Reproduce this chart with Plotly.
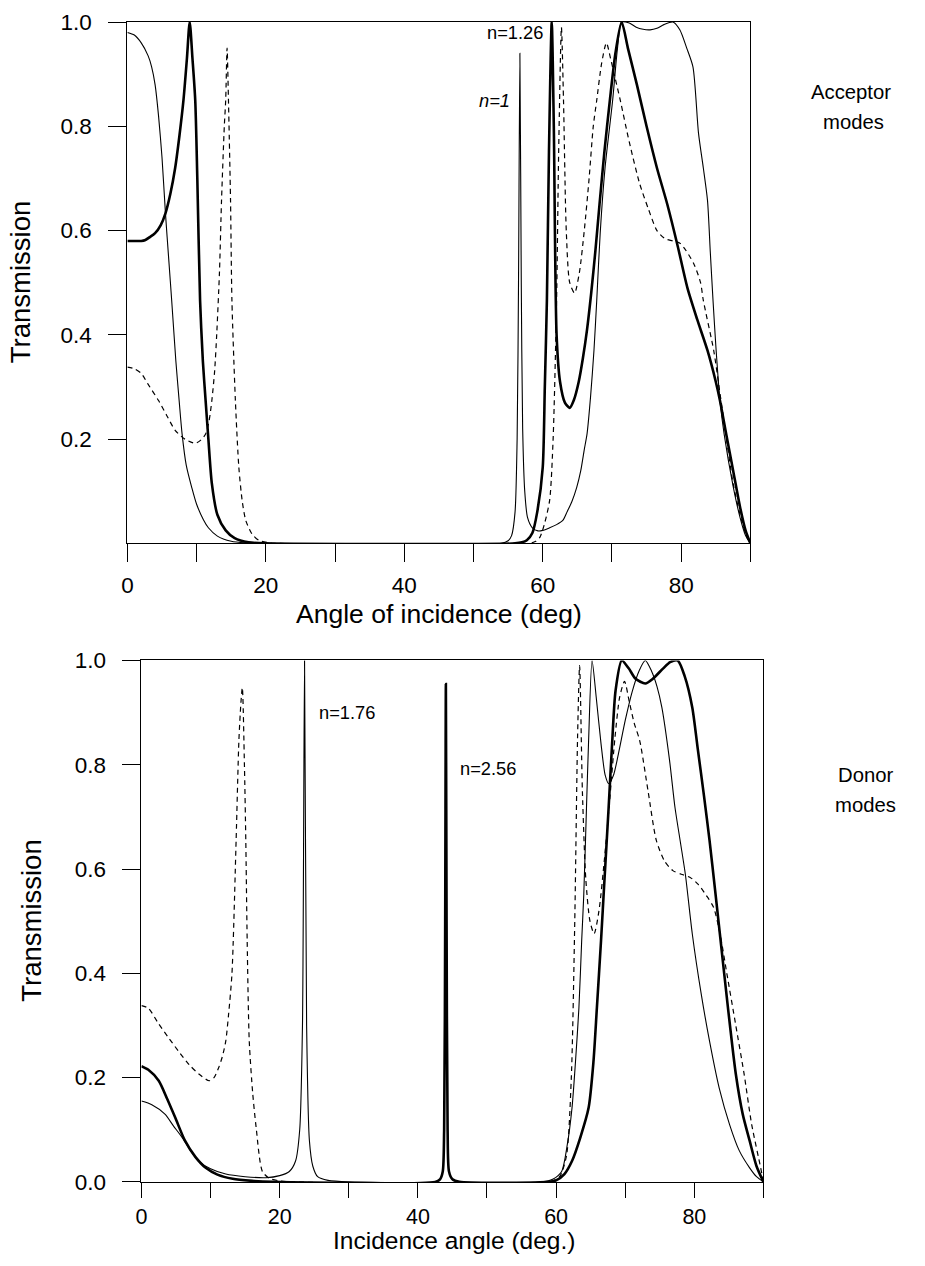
import plotly.graph_objects as go

# ---------------- Data ----------------
acc_thin_x = [0, 1, 2, 3, 3.5, 4, 4.5, 5, 5.5, 6, 6.4, 7, 7.5, 7.9, 8.5, 9.3, 10, 11, 11.7, 13, 15, 17, 20,
              54, 55, 55.5, 56, 56.3, 56.5, 56.7, 56.9, 57.1, 57.4, 57.8, 58.5, 59.3, 60, 61, 62, 62.9, 63.5,
              64.2, 64.9, 65.5, 66, 66.4, 66.9, 67.4, 67.8, 68.3, 69, 70.1, 70.8, 71.4, 72.5, 73.5, 74.5,
              75.5, 76.5, 77.5, 78.8, 79.8, 80.8, 81.7, 82.5, 83.2, 83.8, 84.2, 84.6, 85.0, 85.6, 86.2,
              87.5, 88.5, 89.3, 90]
acc_thin_y = [0.98, 0.975, 0.96, 0.935, 0.914, 0.88, 0.82, 0.74, 0.633, 0.54, 0.466, 0.35, 0.27, 0.21, 0.15,
              0.107, 0.075, 0.045, 0.03, 0.014, 0.004, 0.001, 0.0,
              0.0, 0.005, 0.015, 0.06, 0.2, 0.5, 0.94, 0.5, 0.22, 0.1, 0.05, 0.03, 0.024, 0.025, 0.03, 0.036,
              0.044, 0.06, 0.08, 0.107, 0.14, 0.18, 0.21, 0.28, 0.37, 0.466, 0.595, 0.72, 0.85, 0.95, 1.0,
              0.998, 0.99, 0.986, 0.985, 0.988, 0.995, 1.0, 0.985, 0.95, 0.914, 0.787, 0.72, 0.658, 0.56,
              0.466, 0.38, 0.274, 0.21, 0.11, 0.05, 0.015, 0.0]

acc_thick_x = [0, 1, 2, 2.6, 3.3, 4, 4.8, 5.5, 6.2, 6.9, 7.5, 8.1, 8.6, 9.0, 9.4, 9.8, 10.1, 10.5, 10.9, 11.3,
               11.7, 12.2, 13, 14.2, 15.5, 17.5, 20,
               56, 57, 57.7, 58.5, 59.2, 60, 60.3, 60.6, 60.9, 61.3, 61.6, 62, 62.5, 63.2, 63.9, 64.5, 65.2,
               65.8, 66.4, 67.0, 67.6, 68.2, 68.9, 69.7, 70.5, 71.4, 72.3, 73.6, 75.0, 76.5, 78.0, 79.5,
               80.9, 82.3, 83.8, 85.0, 85.6, 86.5, 87.5, 88.5, 89.3, 90]
acc_thick_y = [0.58, 0.58, 0.58, 0.582, 0.588, 0.595, 0.61, 0.633, 0.67, 0.72, 0.78, 0.85, 0.93, 1.0, 0.93,
               0.85, 0.7, 0.466, 0.35, 0.274, 0.2, 0.115, 0.055, 0.025, 0.01, 0.002, 0.0,
               0.0, 0.002, 0.006, 0.02, 0.06, 0.146, 0.3, 0.466, 0.75, 1.0, 0.8, 0.40, 0.31, 0.27, 0.26,
               0.275, 0.31, 0.355, 0.41, 0.48, 0.56, 0.65, 0.75, 0.85, 0.94, 1.0, 0.95, 0.88, 0.80, 0.72,
               0.65, 0.57, 0.49, 0.43, 0.37, 0.31, 0.274, 0.21, 0.14, 0.07, 0.025, 0.0]

acc_dash_x = [0, 1, 2, 3, 4.5, 5.7, 6.9, 8.3, 9.8, 10.6, 11.3, 11.8, 12.2, 12.6, 12.9, 13.3, 13.6, 14.0, 14.2,
              14.4, 14.6, 14.9, 15.1, 15.6, 16.1, 16.6, 17.1, 18, 19, 20.5, 22,
              58, 59, 59.6, 60.3, 61, 61.5, 62, 62.3, 62.7, 63.0, 63.4, 63.9, 64.6, 65.3, 66, 66.7, 67.3,
              67.8, 68.5, 69.2, 69.8, 70.5, 71.2, 72.5, 74, 75.3, 76.5, 77.6, 78.8, 79.9, 81.8, 82.8, 83.2,
              84.7, 85.4, 86.1, 87.5, 88.7, 89.5, 90]
acc_dash_y = [0.338, 0.335, 0.326, 0.305, 0.274, 0.245, 0.217, 0.2, 0.192, 0.198, 0.21, 0.235, 0.274, 0.33,
              0.40, 0.52, 0.658, 0.8, 0.85, 0.95, 0.85, 0.658, 0.466, 0.274, 0.146, 0.08, 0.044, 0.018,
              0.006, 0.001, 0.0,
              0.0, 0.004, 0.012, 0.04, 0.083, 0.2, 0.466, 0.75, 0.99, 0.85, 0.6, 0.5, 0.48, 0.52, 0.6, 0.7,
              0.8, 0.85, 0.92, 0.96, 0.93, 0.89, 0.85, 0.77, 0.69, 0.64, 0.6, 0.585, 0.58, 0.575, 0.537,
              0.5, 0.466, 0.37, 0.307, 0.242, 0.115, 0.045, 0.012, 0.0]

don_thin_x = [0, 1.5, 3.4, 4.6, 5.9, 7, 8.3, 10, 12.2, 15, 18, 20, 21.4, 22.3, 22.9, 23.3, 23.6, 23.9, 24.3,
              24.8, 25.5, 27, 30,
              58, 59.5, 60.8, 61.6, 62.3, 62.8, 63.3, 63.7, 64.0, 64.4, 64.7, 65.2, 65.8, 66.5, 67.1, 67.6,
              68.3, 69, 70, 71, 72, 72.9, 73.8, 74.6, 75.3, 76.4, 77.2, 78.0, 78.7, 79.7, 81, 82.2, 83.6,
              85.1, 86.5, 88, 89, 90]
don_thin_y = [0.155, 0.148, 0.13, 0.108, 0.085, 0.062, 0.04, 0.025, 0.015, 0.01, 0.008, 0.012, 0.02, 0.04,
              0.1, 0.3, 1.0, 0.3, 0.08, 0.03, 0.01, 0.003, 0.0,
              0.0, 0.005, 0.02, 0.07, 0.142, 0.23, 0.334, 0.463, 0.55, 0.72, 0.846, 1.0, 0.93, 0.84, 0.78,
              0.764, 0.78, 0.82, 0.885, 0.94, 0.98, 1.0, 0.98, 0.95, 0.91, 0.81, 0.718, 0.65, 0.59, 0.476,
              0.36, 0.27, 0.18, 0.11, 0.06, 0.027, 0.01, 0.0]

don_thick_x = [0, 1, 2.5, 3.7, 4.9, 6.3, 7.8, 9.3, 11, 13.2, 16, 19,
               42.5, 43.2, 43.6, 43.8, 43.95, 44.05, 44.15, 44.3, 44.5, 45, 46,
               59, 60, 61.2, 62.3, 63.5, 64.7, 65.4, 65.9, 66.5, 67, 67.6, 68.1, 68.6, 69.5, 70.5, 71.5,
               72.9, 74, 75.5, 76.5, 77.6, 78.6, 79.7, 80.5, 81.4, 82.2, 83, 83.8, 84.9, 86, 87, 88, 89, 90]
don_thick_y = [0.222, 0.215, 0.194, 0.16, 0.123, 0.079, 0.048, 0.027, 0.014, 0.006, 0.002, 0.0,
               0.0, 0.005, 0.02, 0.1, 0.5, 0.955, 0.5, 0.1, 0.02, 0.005, 0.0,
               0.0, 0.003, 0.015, 0.04, 0.085, 0.142, 0.23, 0.334, 0.463, 0.58, 0.718, 0.84, 0.942, 1.0,
               0.985, 0.965, 0.956, 0.965, 0.985, 0.997, 1.0, 0.97, 0.91, 0.83, 0.74, 0.655, 0.56, 0.463,
               0.33, 0.207, 0.13, 0.079, 0.03, 0.0]

don_dash_x = [0, 1, 2.5, 4, 5.4, 6.9, 8.3, 9.8, 10.5, 11.2, 11.7, 12.2, 12.6, 13.1, 13.7, 14.1, 14.4, 14.6,
              14.9, 15.1, 15.3, 15.6, 16.1, 16.6, 17.5, 18.5, 20, 22,
              59, 60.5, 61.5, 62.2, 62.7, 63.1, 63.4, 63.8, 64.3, 64.9, 65.5, 66.2, 67, 67.8, 68.5, 69.2,
              69.9, 70.6, 71.3, 72.1, 73.3, 74.5, 75.7, 76.9, 78.1, 79.4, 80.6, 81.7, 82.8, 83.8, 84.7, 86,
              87.2, 88.3, 89.6, 90]
don_dash_y = [0.338, 0.333, 0.303, 0.275, 0.25, 0.225, 0.207, 0.194, 0.2, 0.22, 0.24, 0.27, 0.32, 0.40,
              0.655, 0.846, 0.92, 0.948, 0.8, 0.655, 0.463, 0.27, 0.17, 0.104, 0.02, 0.007, 0.002, 0.0,
              0.0, 0.01, 0.05, 0.2, 0.5, 0.85, 0.99, 0.75, 0.58, 0.5, 0.476, 0.52, 0.62, 0.74, 0.85, 0.93,
              0.96, 0.92, 0.88, 0.846, 0.75, 0.655, 0.615, 0.597, 0.59, 0.584, 0.57, 0.55, 0.526, 0.47,
              0.40, 0.3, 0.207, 0.11, 0.027, 0.0]

x_tickvals = [0, 10, 20, 30, 40, 50, 60, 70, 80, 90]
x_ticktext = ["0", "", "20", "", "40", "", "60", "", "80", ""]
top_y_tickvals = [0.2, 0.4, 0.6, 0.8, 1.0]
top_y_ticktext = ["0.2", "0.4", "0.6", "0.8", "1.0"]
bot_y_tickvals = [0.0, 0.2, 0.4, 0.6, 0.8, 1.0]
bot_y_ticktext = ["0.0", "0.2", "0.4", "0.6", "0.8", "1.0"]

# ---------------- Layout helpers ----------------
W, H = 925, 1266
FONT = "Liberation Sans, Arial, sans-serif"
# the photographed page lands slightly inset/scaled; map target pixels onto the page
SX, OX = 0.9903, 8.0
SY, OY = 0.9795, 12.0


def px(x):
    return ((x - OX) / SX) / W


def py(y):
    page = min((y - OY) / SY, H - 12.5)
    return 1 - page / H


fig = go.Figure()

thin = dict(color="black", width=1.1, shape="spline", smoothing=0.7)
thick = dict(color="black", width=2.6, shape="spline", smoothing=0.7)
dash = dict(color="black", width=1.2, dash="5px,4px", shape="spline", smoothing=0.7)

fig.add_trace(go.Scatter(x=acc_thin_x, y=acc_thin_y, mode="lines", line=thin, xaxis="x", yaxis="y"))
fig.add_trace(go.Scatter(x=acc_dash_x, y=acc_dash_y, mode="lines", line=dash, xaxis="x", yaxis="y"))
fig.add_trace(go.Scatter(x=acc_thick_x, y=acc_thick_y, mode="lines", line=thick, xaxis="x", yaxis="y"))

fig.add_trace(go.Scatter(x=don_thin_x, y=don_thin_y, mode="lines", line=thin, xaxis="x2", yaxis="y2"))
fig.add_trace(go.Scatter(x=don_dash_x, y=don_dash_y, mode="lines", line=dash, xaxis="x2", yaxis="y2"))
fig.add_trace(go.Scatter(x=don_thick_x, y=don_thick_y, mode="lines", line=thick, xaxis="x2", yaxis="y2"))

axis_common = dict(showgrid=False, zeroline=False, showline=True, linecolor="black", linewidth=1,
                   mirror=True, ticks="outside", tickwidth=1.2, tickcolor="black")
tick_font = dict(family=FONT, size=22.5, color="black")
tick_font_small = dict(family=FONT, size=21.5, color="black")

fig.update_layout(
    width=W, height=H, margin=dict(l=0, r=0, t=0, b=0),
    paper_bgcolor="white", plot_bgcolor="white", showlegend=False,
    xaxis=dict(domain=[px(129), px(750)], range=[0, 90], anchor="y", ticklen=18, tickfont=tick_font,
               tickvals=x_tickvals, ticktext=x_ticktext, ticklabelstandoff=4, **axis_common),
    yaxis=dict(domain=[py(543), py(22)], range=[0, 1], anchor="x", ticklen=18, tickfont=tick_font,
               tickvals=top_y_tickvals, ticktext=top_y_ticktext, ticklabelstandoff=12, **axis_common),
    xaxis2=dict(domain=[px(143), px(763)], range=[0, 90], anchor="y2", ticklen=15, tickfont=tick_font_small,
                tickvals=x_tickvals, ticktext=x_ticktext, ticklabelstandoff=0, **axis_common),
    yaxis2=dict(domain=[py(1181), py(660)], range=[0, 1], anchor="x2", ticklen=18, tickfont=tick_font,
                tickvals=bot_y_tickvals, ticktext=bot_y_ticktext, ticklabelstandoff=12, **axis_common),
)

xtitle_font = dict(family=FONT, size=26.5, color="black")
xtitle2_font = dict(family=FONT, size=24.5, color="black")
ytitle_font = dict(family=FONT, size=27.5, color="black")
side_font = dict(family=FONT, size=20.3, color="black")
lab_font = dict(family=FONT, size=18.3, color="black")

annots = [
    dict(text="Transmission", x=px(22), y=py(282), textangle=-90, font=ytitle_font),
    dict(text="Transmission", x=px(34), y=py(920), textangle=-90, font=ytitle_font),
    dict(text="Angle of incidence (deg)", x=px(440), y=py(614), font=xtitle_font),
    dict(text="Incidence angle (deg.)", x=px(455), y=py(1250), font=xtitle2_font),
    dict(text="Acceptor", x=px(850), y=py(92), font=side_font),
    dict(text="modes", x=px(853), y=py(122), font=side_font),
    dict(text="Donor", x=px(865), y=py(774), font=side_font),
    dict(text="modes", x=px(865), y=py(804), font=side_font),
]
for a in annots:
    fig.add_annotation(xref="paper", yref="paper", xanchor="center", yanchor="middle",
                       showarrow=False, **a)

fig.add_annotation(xref="x", yref="y", x=56.0, y=0.979, text="n=1.26", showarrow=False,
                   font=lab_font, xanchor="center", yanchor="middle")
fig.add_annotation(xref="x", yref="y", x=53.0, y=0.85, text="<i>n=1</i>", showarrow=False,
                   font=lab_font, xanchor="center", yanchor="middle")
fig.add_annotation(xref="x2", yref="y2", x=29.7, y=0.90, text="n=1.76", showarrow=False,
                   font=lab_font, xanchor="center", yanchor="middle")
fig.add_annotation(xref="x2", yref="y2", x=50.2, y=0.793, text="n=2.56", showarrow=False,
                   font=lab_font, xanchor="center", yanchor="middle")

fig.write_html("out.html")
